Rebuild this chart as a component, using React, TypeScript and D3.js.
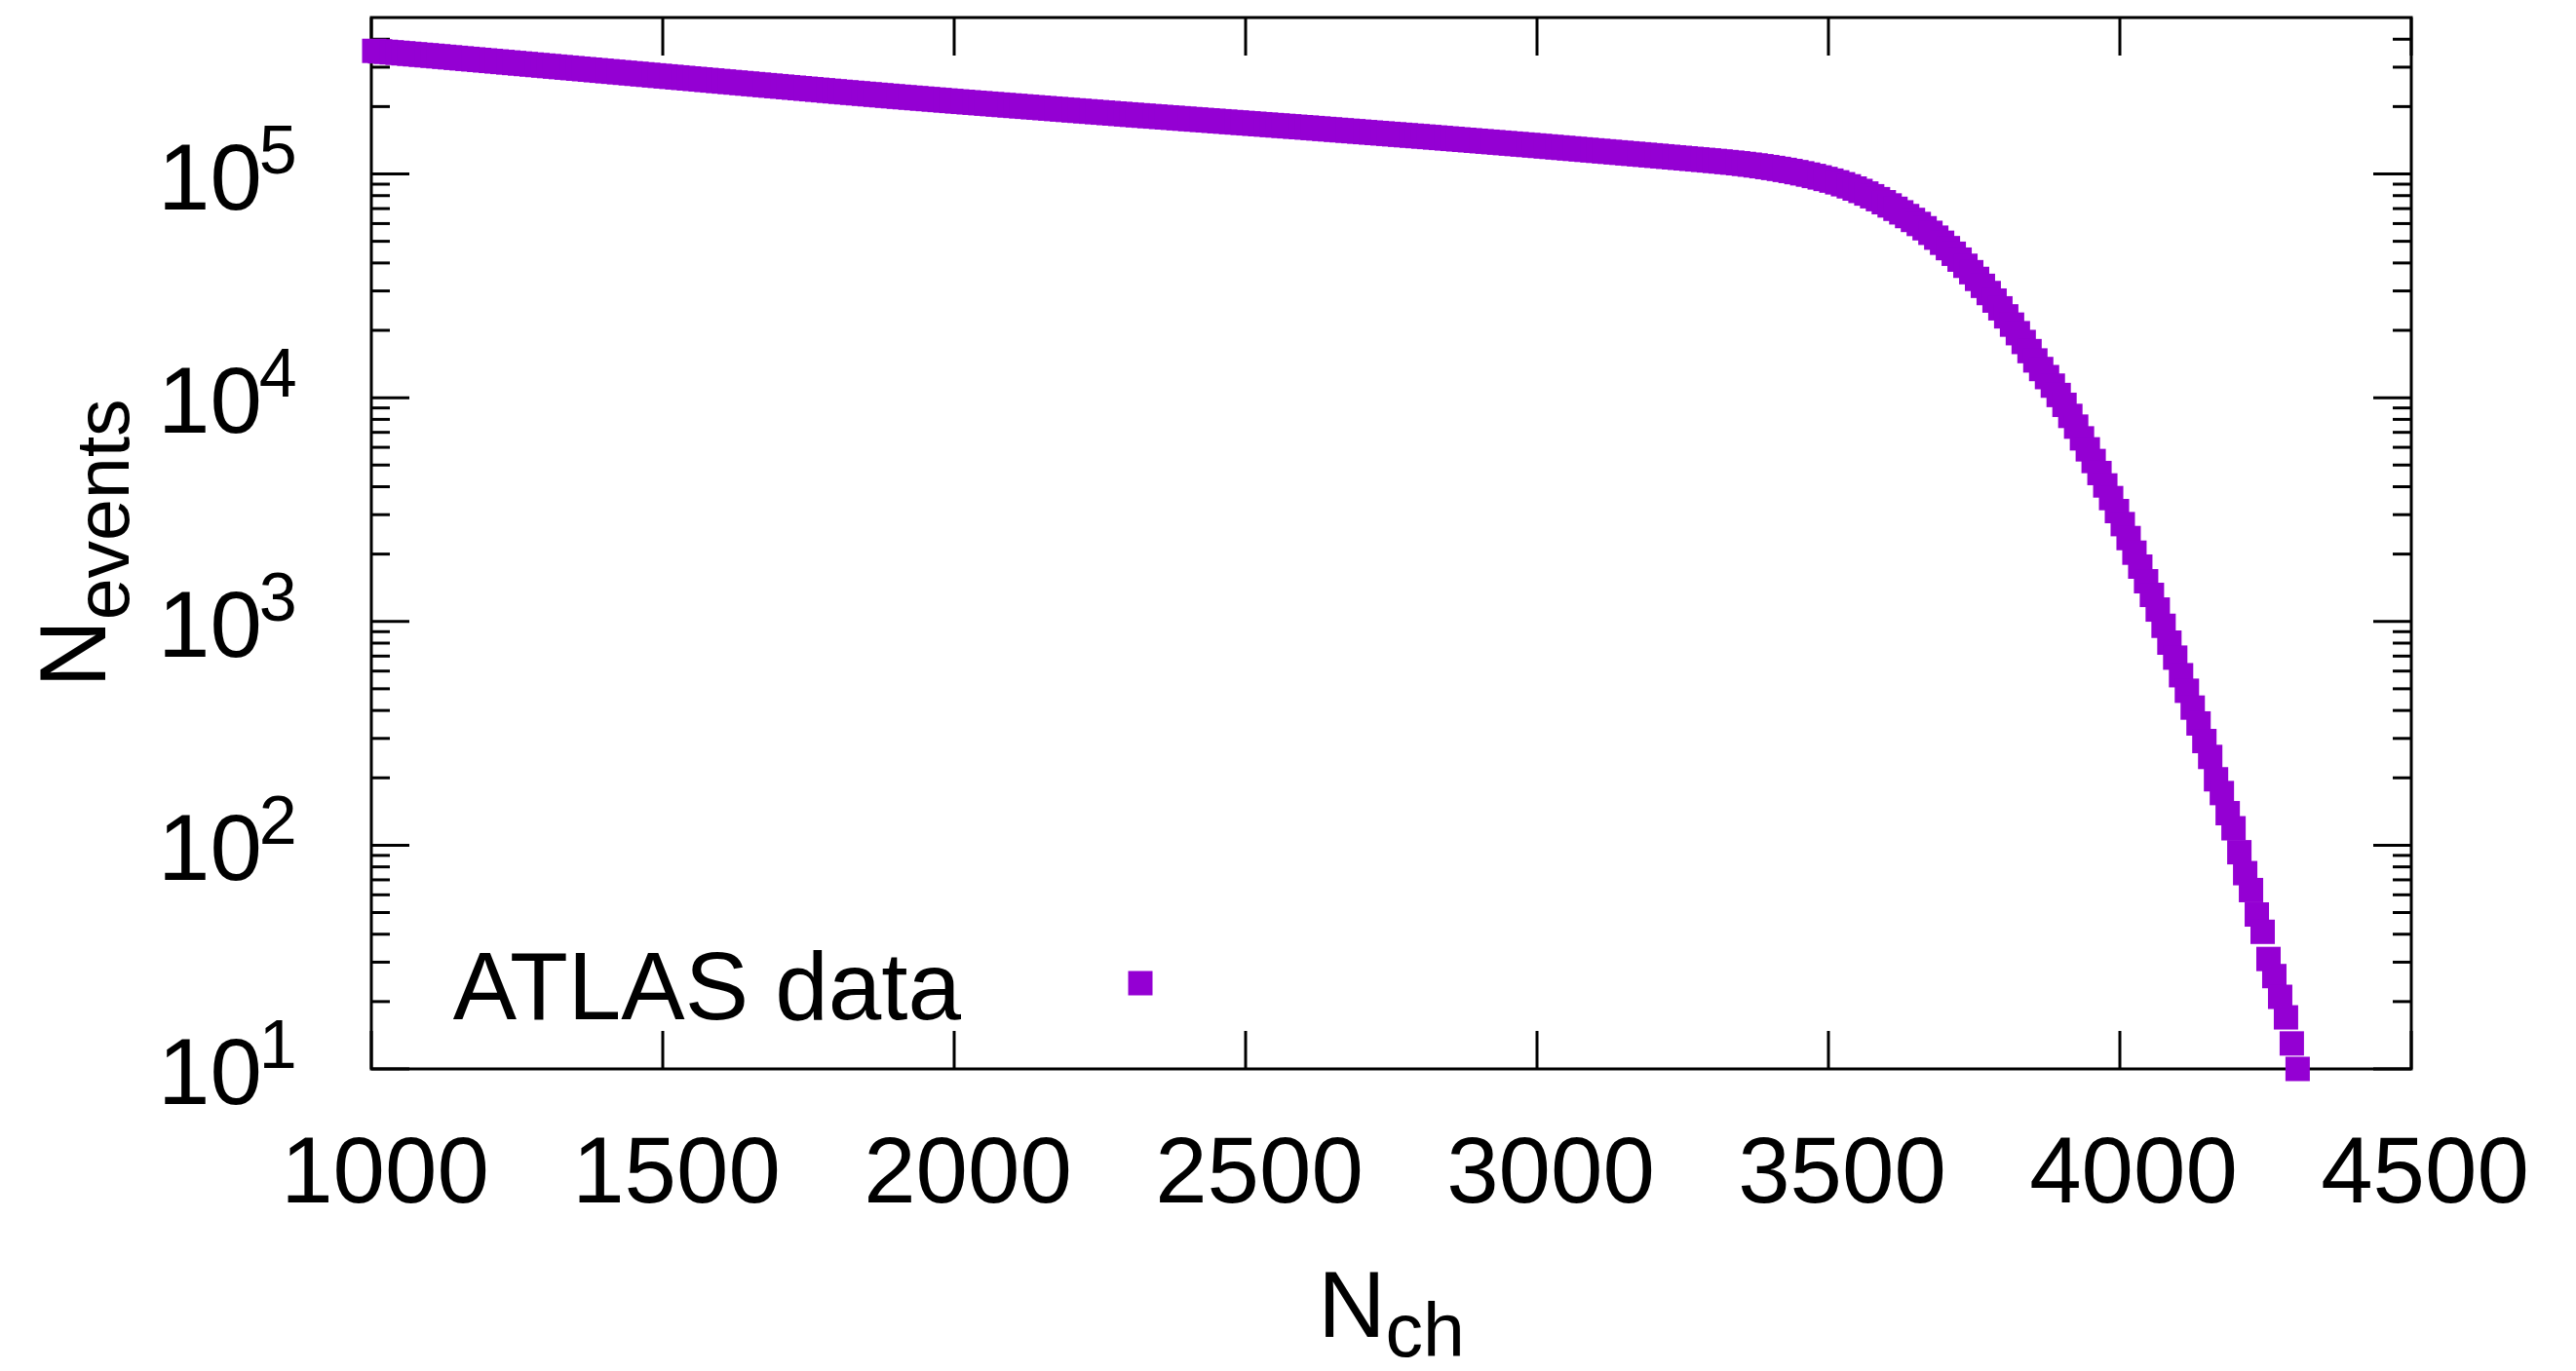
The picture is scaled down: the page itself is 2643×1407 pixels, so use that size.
import React, { useEffect } from 'react';
import * as d3 from 'd3';

// Multiplicity bins (N_ch, bin centres)
const NCH = [
  1005, 1015, 1025, 1035, 1045, 1055, 1065, 1075, 1085, 1095,
  1105, 1115, 1125, 1135, 1145, 1155, 1165, 1175, 1185, 1195,
  1205, 1215, 1225, 1235, 1245, 1255, 1265, 1275, 1285, 1295,
  1305, 1315, 1325, 1335, 1345, 1355, 1365, 1375, 1385, 1395,
  1405, 1415, 1425, 1435, 1445, 1455, 1465, 1475, 1485, 1495,
  1505, 1515, 1525, 1535, 1545, 1555, 1565, 1575, 1585, 1595,
  1605, 1615, 1625, 1635, 1645, 1655, 1665, 1675, 1685, 1695,
  1705, 1715, 1725, 1735, 1745, 1755, 1765, 1775, 1785, 1795,
  1805, 1815, 1825, 1835, 1845, 1855, 1865, 1875, 1885, 1895,
  1905, 1915, 1925, 1935, 1945, 1955, 1965, 1975, 1985, 1995,
  2005, 2015, 2025, 2035, 2045, 2055, 2065, 2075, 2085, 2095,
  2105, 2115, 2125, 2135, 2145, 2155, 2165, 2175, 2185, 2195,
  2205, 2215, 2225, 2235, 2245, 2255, 2265, 2275, 2285, 2295,
  2305, 2315, 2325, 2335, 2345, 2355, 2365, 2375, 2385, 2395,
  2405, 2415, 2425, 2435, 2445, 2455, 2465, 2475, 2485, 2495,
  2505, 2515, 2525, 2535, 2545, 2555, 2565, 2575, 2585, 2595,
  2605, 2615, 2625, 2635, 2645, 2655, 2665, 2675, 2685, 2695,
  2705, 2715, 2725, 2735, 2745, 2755, 2765, 2775, 2785, 2795,
  2805, 2815, 2825, 2835, 2845, 2855, 2865, 2875, 2885, 2895,
  2905, 2915, 2925, 2935, 2945, 2955, 2965, 2975, 2985, 2995,
  3005, 3015, 3025, 3035, 3045, 3055, 3065, 3075, 3085, 3095,
  3105, 3115, 3125, 3135, 3145, 3155, 3165, 3175, 3185, 3195,
  3205, 3215, 3225, 3235, 3245, 3255, 3265, 3275, 3285, 3295,
  3305, 3315, 3325, 3335, 3345, 3355, 3365, 3375, 3385, 3395,
  3405, 3415, 3425, 3435, 3445, 3455, 3465, 3475, 3485, 3495,
  3505, 3515, 3525, 3535, 3545, 3555, 3565, 3575, 3585, 3595,
  3605, 3615, 3625, 3635, 3645, 3655, 3665, 3675, 3685, 3695,
  3705, 3715, 3725, 3735, 3745, 3755, 3765, 3775, 3785, 3795,
  3805, 3815, 3825, 3835, 3845, 3855, 3865, 3875, 3885, 3895,
  3905, 3915, 3925, 3935, 3945, 3955, 3965, 3975, 3985, 3995,
  4005, 4015, 4025, 4035, 4045, 4055, 4065, 4075, 4085, 4095,
  4105, 4115, 4125, 4135, 4145, 4155, 4165, 4175, 4185, 4195,
  4205, 4215, 4225, 4235, 4245, 4255, 4265, 4275, 4285, 4295,
  4305,
];

// Number of events per bin (ATLAS data)
const NEVENTS = [
  354800, 353010, 351230, 349460, 347700, 345940, 344200, 342460, 340730, 339010,
  337300, 335520, 333750, 331990, 330230, 328490, 326750, 325030, 323310, 321600,
  319900, 318210, 316530, 314860, 313190, 311540, 309890, 308260, 306630, 305010,
  303400, 301790, 300190, 298600, 297020, 295450, 293880, 292320, 290770, 289230,
  287700, 286180, 284670, 283170, 281680, 280200, 278720, 277250, 275790, 274340,
  272900, 271460, 270020, 268590, 267170, 265760, 264350, 262950, 261560, 260180,
  258800, 257440, 256090, 254740, 253400, 252070, 250740, 249420, 248110, 246800,
  245500, 244200, 242910, 241620, 240340, 239070, 237800, 236540, 235290, 234040,
  232800, 231620, 230450, 229290, 228130, 226980, 225830, 224690, 223550, 222420,
  221300, 220240, 219180, 218130, 217080, 216040, 215000, 213970, 212940, 211920,
  210900, 209930, 208960, 208000, 207040, 206090, 205140, 204200, 203260, 202330,
  201400, 200470, 199550, 198630, 197710, 196800, 195890, 194990, 194090, 193190,
  192300, 191420, 190550, 189680, 188810, 187950, 187090, 186240, 185390, 184540,
  183700, 182890, 182090, 181290, 180500, 179710, 178920, 178140, 177360, 176580,
  175800, 175040, 174280, 173520, 172760, 172010, 171260, 170520, 169780, 169040,
  168300, 167570, 166840, 166110, 165390, 164670, 163950, 163230, 162520, 161810,
  161100, 160350, 159610, 158870, 158140, 157410, 156680, 155960, 155240, 154520,
  153800, 153100, 152400, 151700, 151000, 150310, 149620, 148930, 148250, 147570,
  146900, 146200, 145500, 144800, 144100, 143410, 142720, 142040, 141360, 140680,
  140000, 139330, 138660, 137990, 137330, 136670, 136010, 135360, 134710, 134060,
  133400, 132720, 132050, 131380, 130720, 130060, 129400, 128750, 128100, 127450,
  126800, 126160, 125520, 124880, 124250, 123620, 122990, 122370, 121750, 121130,
  120500, 119870, 119240, 118610, 117990, 117370, 116750, 116140, 115530, 114920,
  114300, 113660, 113000, 112330, 111610, 110840, 110030, 109170, 108270, 107320,
  106340, 105320, 104230, 103090, 101880, 100620, 99310, 97930, 96470, 94950,
  93370, 91710, 89930, 88030, 86020, 83930, 81740, 79470, 77140, 74750,
  72310, 69840, 67340, 64820, 62290, 59760, 57170, 54550, 51900, 49250,
  46600, 43980, 41400, 38860, 36380, 33950, 31610, 29350, 27160, 25080,
  23090, 21210, 19420, 17740, 16150, 14670, 13430, 12360, 11320, 10280,
  9290, 8290, 7424, 6580, 5876, 5211, 4605, 4053, 3558, 3113,
  2722, 2358, 2029, 1758, 1512, 1314, 1130, 956, 804, 689,
  575, 490, 412, 350, 292, 248, 197, 171, 139, 119,
  93, 75, 63, 49, 41, 31, 26, 21, 17, 13,
  10,
];

const X_TICKS = [1000, 1500, 2000, 2500, 3000, 3500, 4000, 4500];
const Y_MAJOR_EXPONENTS = [1, 2, 3, 4, 5];
const LEGEND_LABEL = 'ATLAS data';
const X_TITLE_MAIN = 'N';
const X_TITLE_SUB = 'ch';
const Y_TITLE_MAIN = 'N';
const Y_TITLE_SUB = 'events';

const W = 2643;
const H = 1407;
const PLOT = { left: 381, right: 2474, top: 18, bottom: 1097 };
const COLOR = '#9400d3';
const FONT = '"Liberation Sans", Arial, Helvetica, sans-serif';
const FS = 96;
const FS_SMALL = 77;
const FS_EXP = 70;
const MAJOR = 39;
const MINOR = 19;
const SQ = 25;

export default function App() {
  useEffect(() => {
    document.body.style.margin = '0';
    document.body.style.overflow = 'hidden';
  }, []);

  const x = d3.scaleLinear().domain([1000, 4500]).range([PLOT.left, PLOT.right]);
  const y = d3.scaleLog().domain([10, 5e5]).range([PLOT.bottom, PLOT.top]);

  const yTicks = y.ticks().filter((v) => v > 10 * 0.999 && v < 5e5 * 0.999);
  const isMajor = (v: number) => Math.abs(Math.log10(v) - Math.round(Math.log10(v))) < 1e-9;

  const data = NCH.map((n, i) => ({ n, v: NEVENTS[i] }));

  const sw = 3;

  return (
    <svg
      width={W}
      height={H}
      viewBox={`0 0 ${W} ${H}`}
      style={{ position: 'absolute', left: 0, top: 0, display: 'block', background: '#fff' }}
      fontFamily={FONT}
    >
      <rect x={0} y={0} width={W} height={H} fill="#fff" />

      {/* y ticks (left and right, inward) */}
      {yTicks.map((v) => {
        const len = isMajor(v) ? MAJOR : MINOR;
        const yy = y(v);
        return (
          <g key={`yt${v}`} stroke="#000" strokeWidth={sw}>
            <line x1={PLOT.left} x2={PLOT.left + len} y1={yy} y2={yy} />
            <line x1={PLOT.right} x2={PLOT.right - len} y1={yy} y2={yy} />
          </g>
        );
      })}

      {/* x ticks (bottom and top, inward) */}
      {X_TICKS.map((t) => (
        <g key={`xt${t}`} stroke="#000" strokeWidth={sw}>
          <line x1={x(t)} x2={x(t)} y1={PLOT.bottom} y2={PLOT.bottom - MAJOR} />
          <line x1={x(t)} x2={x(t)} y1={PLOT.top} y2={PLOT.top + MAJOR} />
        </g>
      ))}

      {/* frame */}
      <rect
        x={PLOT.left}
        y={PLOT.top}
        width={PLOT.right - PLOT.left}
        height={PLOT.bottom - PLOT.top}
        fill="none"
        stroke="#000"
        strokeWidth={sw}
      />

      {/* x tick labels */}
      {X_TICKS.map((t) => (
        <text key={`xl${t}`} x={x(t) + 14} y={1234} textAnchor="middle" fontSize={FS} fill="#000">
          {t}
        </text>
      ))}

      {/* y tick labels */}
      {Y_MAJOR_EXPONENTS.map((e) => (
        <text key={`yl${e}`} x={162} y={y(Math.pow(10, e)) + 36} textAnchor="start" fontSize={FS} fill="#000">
          10
          <tspan dx={-3} dy={-37} fontSize={FS_EXP}>
            {e}
          </tspan>
        </text>
      ))}

      {/* axis titles */}
      <text x={(PLOT.left + PLOT.right) / 2} y={1372} textAnchor="middle" fontSize={FS} fill="#000">
        {X_TITLE_MAIN}
        <tspan dy={20} fontSize={FS_SMALL}>
          {X_TITLE_SUB}
        </tspan>
      </text>
      <text
        transform={`translate(108,${(PLOT.top + PLOT.bottom) / 2}) rotate(-90)`}
        textAnchor="middle"
        fontSize={FS}
        fill="#000"
      >
        {Y_TITLE_MAIN}
        <tspan dy={24} fontSize={FS_SMALL}>
          {Y_TITLE_SUB}
        </tspan>
      </text>

      {/* data points */}
      <g fill={COLOR}>
        {data.map((d) => (
          <rect key={`p${d.n}`} x={x(d.n) - SQ / 2} y={y(d.v) - SQ / 2} width={SQ} height={SQ} />
        ))}
      </g>

      {/* legend */}
      <text x={986} y={1046} textAnchor="end" fontSize={98} fill="#000">
        {LEGEND_LABEL}
      </text>
      <rect x={1170 - SQ / 2} y={1009 - SQ / 2} width={SQ} height={SQ} fill={COLOR} />
    </svg>
  );
}
